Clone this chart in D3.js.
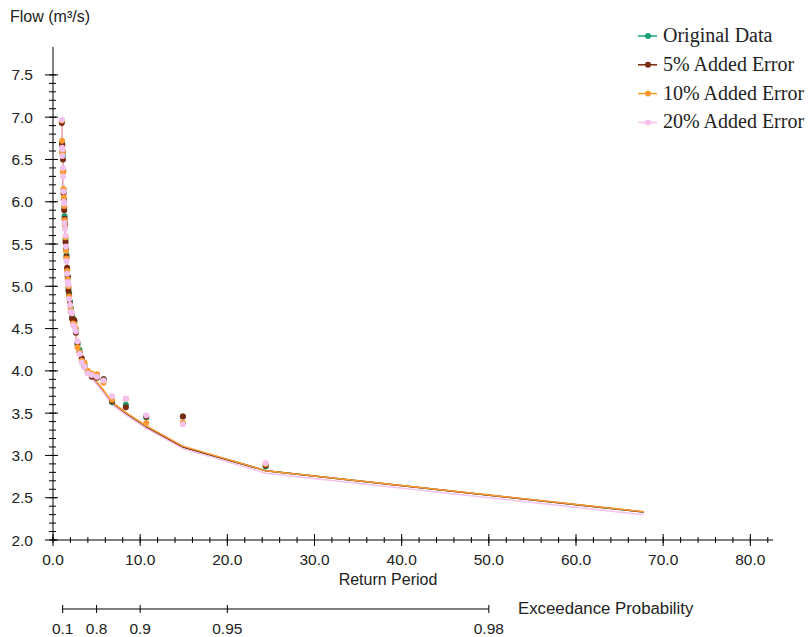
<!DOCTYPE html>
<html lang="en">
<head>
    <meta charset="UTF-8">
    <title>Flow vs Return Period</title>
    <script src="https://d3js.org/d3.v7.min.js"></script>
    <style>
        body { margin: 0; background: #fff; }
        .tick-label { font-family: "Liberation Sans", Arial, sans-serif; font-size: 15.5px; fill: #222; }
        .axis-title { font-family: "Liberation Sans", Arial, sans-serif; font-size: 16px; fill: #222; }
        .legend-text { font-family: "Liberation Serif", "Times New Roman", serif; font-size: 20px; fill: #222; }
    </style>
</head>
<body>
<script>
    // Return period of each plotted point (shared by all series)
    const returnPeriod = [1.01, 1.04, 1.07, 1.10, 1.14, 1.17, 1.21, 1.25, 1.29, 1.33, 1.38, 1.44, 1.49,
        1.55, 1.62, 1.69, 1.77, 1.85, 1.95, 2.05, 2.17, 2.30, 2.45, 2.62, 2.81, 3.04, 3.30, 3.61, 3.99,
        4.45, 5.04, 5.81, 6.78, 8.36, 10.7, 14.9, 24.4];

    // Observed flows (m3/s)
    const originalData = [6.95, 6.70, 6.69, 6.58, 6.54, 6.37, 6.14, 6.03, 5.93, 5.83, 5.73, 5.55, 5.45,
        5.37, 5.20, 5.10, 4.98, 4.92, 4.82, 4.74, 4.66, 4.62, 4.58, 4.49, 4.31, 4.25, 4.13, 4.07, 3.99,
        3.95, 3.95, 3.90, 3.63, 3.60, 3.45, 3.46, 2.87];
    const error5 = [6.93, 6.68, 6.66, 6.60, 6.50, 6.36, 6.10, 6.02, 5.90, 5.80, 5.75, 5.52, 5.43,
        5.35, 5.22, 5.12, 4.95, 4.90, 4.80, 4.70, 4.62, 4.60, 4.60, 4.45, 4.33, 4.22, 4.15, 4.05, 3.98,
        3.93, 3.92, 3.90, 3.64, 3.57, 3.46, 3.46, 2.88];
    const error10 = [6.96, 6.72, 6.57, 6.60, 6.37, 6.35, 6.15, 6.05, 5.95, 5.78, 5.70, 5.58, 5.42,
        5.33, 5.18, 5.08, 5.00, 4.88, 4.78, 4.72, 4.68, 4.56, 4.55, 4.50, 4.28, 4.22, 4.12, 4.10, 4.00,
        3.97, 3.96, 3.86, 3.66, 3.67, 3.385, 3.39, 2.90];
    const error20 = [6.97, 6.64, 6.54, 6.62, 6.40, 6.30, 6.12, 6.00, 5.98, 5.75, 5.68, 5.60, 5.47,
        5.30, 5.15, 5.05, 5.02, 4.85, 4.78, 4.70, 4.68, 4.54, 4.52, 4.47, 4.35, 4.20, 4.10, 4.05, 3.97,
        3.95, 3.93, 3.885, 3.70, 3.67, 3.476, 3.37, 2.91];

    // Fitted curves, one per series
    const fitPeriod = [1.01, 1.04, 1.07, 1.10, 1.14, 1.17, 1.21, 1.25, 1.29, 1.33, 1.38, 1.44, 1.49,
        1.55, 1.62, 1.69, 1.77, 1.85, 1.95, 2.05, 2.17, 2.30, 2.45, 2.62, 2.81, 3.04, 3.30, 3.61, 3.99,
        4.45, 5.04, 5.81, 6.78, 8.36, 10.7, 14.9, 24.4, 67.8];
    const fitOriginal = [6.93, 6.72, 6.62, 6.52, 6.38, 6.25, 6.12, 6.00, 5.90, 5.80, 5.68, 5.55, 5.45,
        5.33, 5.20, 5.08, 4.97, 4.88, 4.80, 4.72, 4.65, 4.58, 4.50, 4.42, 4.33, 4.24, 4.15, 4.07, 4.00,
        3.93, 3.86, 3.76, 3.62, 3.50, 3.34, 3.10, 2.82, 2.33];
    const fit5 = [6.92, 6.71, 6.61, 6.51, 6.37, 6.24, 6.11, 5.99, 5.89, 5.79, 5.67, 5.54, 5.44,
        5.32, 5.19, 5.07, 4.96, 4.87, 4.79, 4.71, 4.64, 4.57, 4.49, 4.41, 4.32, 4.23, 4.14, 4.06, 3.99,
        3.92, 3.85, 3.75, 3.61, 3.49, 3.33, 3.10, 2.82, 2.33];
    const fit10 = [6.94, 6.73, 6.63, 6.53, 6.39, 6.26, 6.13, 6.01, 5.91, 5.81, 5.69, 5.56, 5.46,
        5.34, 5.21, 5.09, 4.98, 4.89, 4.81, 4.73, 4.66, 4.59, 4.51, 4.43, 4.34, 4.25, 4.16, 4.08, 4.01,
        3.94, 3.87, 3.77, 3.63, 3.51, 3.35, 3.11, 2.82, 2.334];
    const fit20 = [6.95, 6.72, 6.61, 6.51, 6.37, 6.24, 6.11, 5.99, 5.89, 5.79, 5.67, 5.54, 5.44,
        5.32, 5.19, 5.07, 4.96, 4.87, 4.78, 4.70, 4.63, 4.56, 4.48, 4.40, 4.31, 4.22, 4.13, 4.05, 3.98,
        3.91, 3.84, 3.74, 3.60, 3.48, 3.32, 3.08, 2.79, 2.298];

    const seriesNames = ['Original Data', '5% Added Error', '10% Added Error', '20% Added Error'];
    const seriesColors = ['#17a070', '#7a2a10', '#ff9a33', '#f3c2ee'];
    const seriesValues = [originalData, error5, error10, error20];
    const seriesFits = [fitOriginal, fit5, fit10, fit20];

    // Axis ticks
    const yMajorTicks = [2.0, 2.5, 3.0, 3.5, 4.0, 4.5, 5.0, 5.5, 6.0, 6.5, 7.0, 7.5];
    const xMajorTicks = [0, 10, 20, 30, 40, 50, 60, 70, 80];
    const exceedanceTicks = [0.1, 0.8, 0.9, 0.95, 0.98];

    const width = 811, height = 637;
    const plot = { left: 53, right: 773, top: 47, bottom: 540 };

    const svg = d3.select('body').append('svg')
        .attr('width', width)
        .attr('height', height);

    const x = d3.scaleLinear().domain([0, 82.6]).range([plot.left, plot.right]);
    const y = d3.scaleLinear().domain([2.0, 7.83]).range([plot.bottom, plot.top]);

    // Y axis
    const yAxis = svg.append('g');
    yAxis.append('line')
        .attr('x1', x(0)).attr('x2', x(0))
        .attr('y1', y(7.83)).attr('y2', y(2.0))
        .attr('stroke', '#000');
    const yMinor = d3.range(20, 76).map(d => d / 10);
    yAxis.selectAll('.ymin').data(yMinor).enter().append('line')
        .attr('x1', x(0) - 4).attr('x2', x(0) + 3)
        .attr('y1', d => y(d)).attr('y2', d => y(d))
        .attr('stroke', '#000');
    yAxis.selectAll('.ymaj').data(yMajorTicks).enter().append('line')
        .attr('x1', x(0) - 8).attr('x2', x(0) + 5)
        .attr('y1', d => y(d)).attr('y2', d => y(d))
        .attr('stroke', '#000');
    yAxis.selectAll('.ylab').data(yMajorTicks).enter().append('text')
        .attr('class', 'tick-label')
        .attr('x', 33)
        .attr('y', d => y(d) + 5.5)
        .attr('text-anchor', 'end')
        .text(d => d.toFixed(1));

    // X axis
    const xAxis = svg.append('g');
    xAxis.append('line')
        .attr('x1', x(0)).attr('x2', x(82.6))
        .attr('y1', y(2.0)).attr('y2', y(2.0))
        .attr('stroke', '#000');
    const xMinor = d3.range(0, 42).map(d => d * 2);
    xAxis.selectAll('.xmin').data(xMinor).enter().append('line')
        .attr('x1', d => x(d)).attr('x2', d => x(d))
        .attr('y1', y(2.0) - 3).attr('y2', y(2.0) + 3)
        .attr('stroke', '#000');
    xAxis.selectAll('.xmaj').data(xMajorTicks).enter().append('line')
        .attr('x1', d => x(d)).attr('x2', d => x(d))
        .attr('y1', y(2.0) - 6).attr('y2', y(2.0) + 6)
        .attr('stroke', '#000');
    xAxis.selectAll('.xlab').data(xMajorTicks).enter().append('text')
        .attr('class', 'tick-label')
        .attr('x', d => x(d))
        .attr('y', 565)
        .attr('text-anchor', 'middle')
        .text(d => d.toFixed(1));

    // Exceedance probability axis (positioned by return period T = 1/(1-p))
    const exX = p => x(1 / (1 - p));
    const exY = 609;
    const exAxis = svg.append('g');
    exAxis.append('line')
        .attr('x1', exX(0.1)).attr('x2', exX(0.98))
        .attr('y1', exY).attr('y2', exY)
        .attr('stroke', '#000');
    exAxis.selectAll('.extick').data(exceedanceTicks).enter().append('line')
        .attr('x1', d => exX(d)).attr('x2', d => exX(d))
        .attr('y1', exY - 4).attr('y2', exY + 4)
        .attr('stroke', '#000');
    exAxis.selectAll('.exlab').data(exceedanceTicks).enter().append('text')
        .attr('class', 'tick-label')
        .attr('x', d => exX(d))
        .attr('y', 634)
        .attr('text-anchor', 'middle')
        .text(d => d);

    // Titles
    svg.append('text').attr('class', 'axis-title')
        .attr('x', 10).attr('y', 22).text('Flow (m³/s)');
    svg.append('text').attr('class', 'axis-title')
        .attr('x', 388).attr('y', 585).attr('text-anchor', 'middle').text('Return Period');
    svg.append('text').attr('class', 'axis-title')
        .attr('x', 518).attr('y', 614).style('font-size', '16.8px').text('Exceedance Probability');

    // Fitted lines
    const line = d3.line()
        .x((d, i) => x(fitPeriod[i]))
        .y(d => y(d));
    svg.selectAll('.fit').data(seriesFits).enter().append('path')
        .attr('d', d => line(d))
        .attr('fill', 'none')
        .attr('stroke', (d, i) => seriesColors[i])
        .attr('stroke-width', 1.5);

    // Points
    seriesValues.forEach((vals, s) => {
        svg.append('g').selectAll('circle').data(vals).enter().append('circle')
            .attr('cx', (d, i) => x(returnPeriod[i]))
            .attr('cy', d => y(d))
            .attr('r', 3)
            .attr('fill', seriesColors[s]);
    });

    // Legend
    const legend = svg.append('g');
    seriesNames.forEach((name, i) => {
        const ly = 36 + i * 28.8;
        legend.append('line')
            .attr('x1', 638).attr('x2', 657)
            .attr('y1', ly).attr('y2', ly)
            .attr('stroke', seriesColors[i]).attr('stroke-width', 1.5);
        legend.append('circle')
            .attr('cx', 648).attr('cy', ly).attr('r', 3)
            .attr('fill', seriesColors[i]);
        legend.append('text').attr('class', 'legend-text')
            .attr('x', 663).attr('y', ly + 6)
            .text(name);
    });
</script>
</body>
</html>
